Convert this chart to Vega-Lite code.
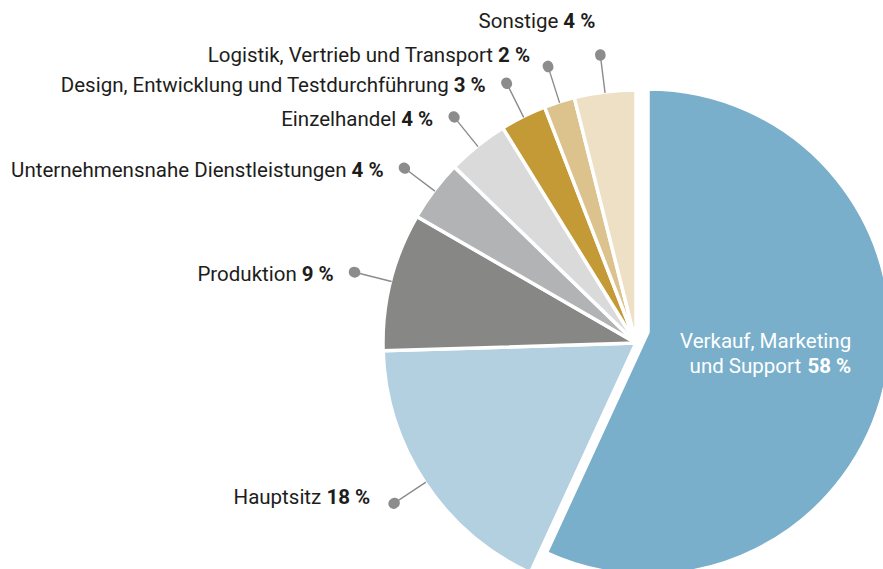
{
  "$schema": "https://vega.github.io/schema/vega-lite/v6.json",
  "width": 494,
  "height": 452,
  "autosize": {"type": "none"},
  "padding": {"left": 389, "top": 117, "right": 0, "bottom": 0},
  "background": "white",
  "config": {
    "view": {"stroke": null},
    "text": {"font": "Roboto", "fontSize": 20.5, "color": "#1d1d1b", "baseline": "middle"}
  },
  "data": {
    "values": [
      {"category": "Verkauf, Marketing und Support", "pct": 58, "pctLabel": "58 %", "ord": 1},
      {"category": "Hauptsitz", "pct": 18, "pctLabel": "18 %", "ord": 2},
      {"category": "Produktion", "pct": 9, "pctLabel": "9 %", "ord": 3},
      {"category": "Unternehmensnahe Dienstleistungen", "pct": 4, "pctLabel": "4 %", "ord": 4},
      {"category": "Einzelhandel", "pct": 4, "pctLabel": "4 %", "ord": 5},
      {"category": "Design, Entwicklung und Testdurchführung", "pct": 3, "pctLabel": "3 %", "ord": 6},
      {"category": "Logistik, Vertrieb und Transport", "pct": 2, "pctLabel": "2 %", "ord": 7},
      {"category": "Sonstige", "pct": 4, "pctLabel": "4 %", "ord": 8}
    ]
  },
  "encoding": {
    "theta": {"field": "pct", "type": "quantitative", "stack": true},
    "order": {"field": "ord", "type": "quantitative"}
  },
  "layer": [
    {
      "mark": {"type": "arc", "radius": 253, "stroke": "white", "strokeWidth": 3.5},
      "encoding": {
        "color": {
          "field": "category", "type": "nominal", "legend": null,
          "scale": {
            "domain": ["Verkauf, Marketing und Support", "Hauptsitz", "Produktion", "Unternehmensnahe Dienstleistungen", "Einzelhandel", "Design, Entwicklung und Testdurchführung", "Logistik, Vertrieb und Transport", "Sonstige"],
            "range": ["#79afcb", "#b3d0e1", "#878786", "#b2b3b5", "#dadada", "#c39a36", "#dcc28c", "#ede0c5"]
          }
        },
        "opacity": {"condition": {"test": "datum.ord === 1", "value": 0}, "value": 1}
      }
    },
    {
      "mark": {"type": "arc", "radius": 243, "xOffset": 12, "yOffset": -11, "fill": "#79afcb", "stroke": "white", "strokeWidth": 3.5},
      "encoding": {
        "opacity": {"condition": {"test": "datum.ord === 1", "value": 1}, "value": 0}
      }
    },
    {
      "mark": {"type": "arc", "radius": 290, "radius2": 252, "padAngle": 3, "filled": false, "stroke": "#8c8c8c", "strokeWidth": 1.4},
      "encoding": {
        "opacity": {"condition": {"test": "datum.ord === 1", "value": 0}, "value": 1}
      }
    },
    {
      "mark": {"type": "arc", "radius": 290.8, "radius2": 289.6, "padAngle": 3, "filled": false, "stroke": "#8c8c8c", "strokeWidth": 10.5, "strokeJoin": "round", "strokeCap": "round"},
      "encoding": {
        "opacity": {"condition": {"test": "datum.ord === 1", "value": 0}, "value": 1}
      }
    },
    {
      "mark": {"type": "text", "radius": 290, "align": "right", "dx": -21, "dy": 3, "fontWeight": "bold"},
      "encoding": {
        "text": {"condition": {"test": "datum.ord >= 3 && datum.ord <= 6", "field": "pctLabel", "type": "nominal"}, "value": ""}
      }
    },
    {
      "mark": {"type": "text", "radius": 290, "align": "right", "dx": -58, "dy": 3},
      "encoding": {
        "text": {"condition": {"test": "datum.ord >= 3 && datum.ord <= 6", "field": "category", "type": "nominal"}, "value": ""}
      }
    },
    {
      "mark": {"type": "text", "radius": 290, "align": "right", "dx": -24, "dy": -5, "fontWeight": "bold"},
      "encoding": {
        "text": {"condition": {"test": "datum.ord === 2", "field": "pctLabel", "type": "nominal"}, "value": ""}
      }
    },
    {
      "mark": {"type": "text", "radius": 290, "align": "right", "dx": -73, "dy": -5},
      "encoding": {
        "text": {"condition": {"test": "datum.ord === 2", "field": "category", "type": "nominal"}, "value": ""}
      }
    },
    {
      "mark": {"type": "text", "radius": 290, "align": "right", "dx": -18, "dy": -11, "fontWeight": "bold"},
      "encoding": {
        "text": {"condition": {"test": "datum.ord === 7", "field": "pctLabel", "type": "nominal"}, "value": ""}
      }
    },
    {
      "mark": {"type": "text", "radius": 290, "align": "right", "dx": -55, "dy": -11},
      "encoding": {
        "text": {"condition": {"test": "datum.ord === 7", "field": "category", "type": "nominal"}, "value": ""}
      }
    },
    {
      "mark": {"type": "text", "radius": 290, "align": "right", "dx": -5, "dy": -33, "fontWeight": "bold"},
      "encoding": {
        "text": {"condition": {"test": "datum.ord === 8", "field": "pctLabel", "type": "nominal"}, "value": ""}
      }
    },
    {
      "mark": {"type": "text", "radius": 290, "align": "right", "dx": -42, "dy": -33},
      "encoding": {
        "text": {"condition": {"test": "datum.ord === 8", "field": "category", "type": "nominal"}, "value": ""}
      }
    },
    {
      "mark": {"type": "text", "radius": 208, "xOffset": 12, "yOffset": -11, "align": "right", "dy": -34, "color": "white"},
      "encoding": {
        "text": {"condition": {"test": "datum.ord === 1", "value": "Verkauf, Marketing"}, "value": ""}
      }
    },
    {
      "mark": {"type": "text", "radius": 208, "xOffset": 12, "yOffset": -11, "align": "right", "dx": -50, "dy": -9, "color": "white"},
      "encoding": {
        "text": {"condition": {"test": "datum.ord === 1", "value": "und Support"}, "value": ""}
      }
    },
    {
      "mark": {"type": "text", "radius": 208, "xOffset": 12, "yOffset": -11, "align": "right", "dy": -9, "color": "white", "fontWeight": "bold"},
      "encoding": {
        "text": {"condition": {"test": "datum.ord === 1", "field": "pctLabel", "type": "nominal"}, "value": ""}
      }
    }
  ]
}
